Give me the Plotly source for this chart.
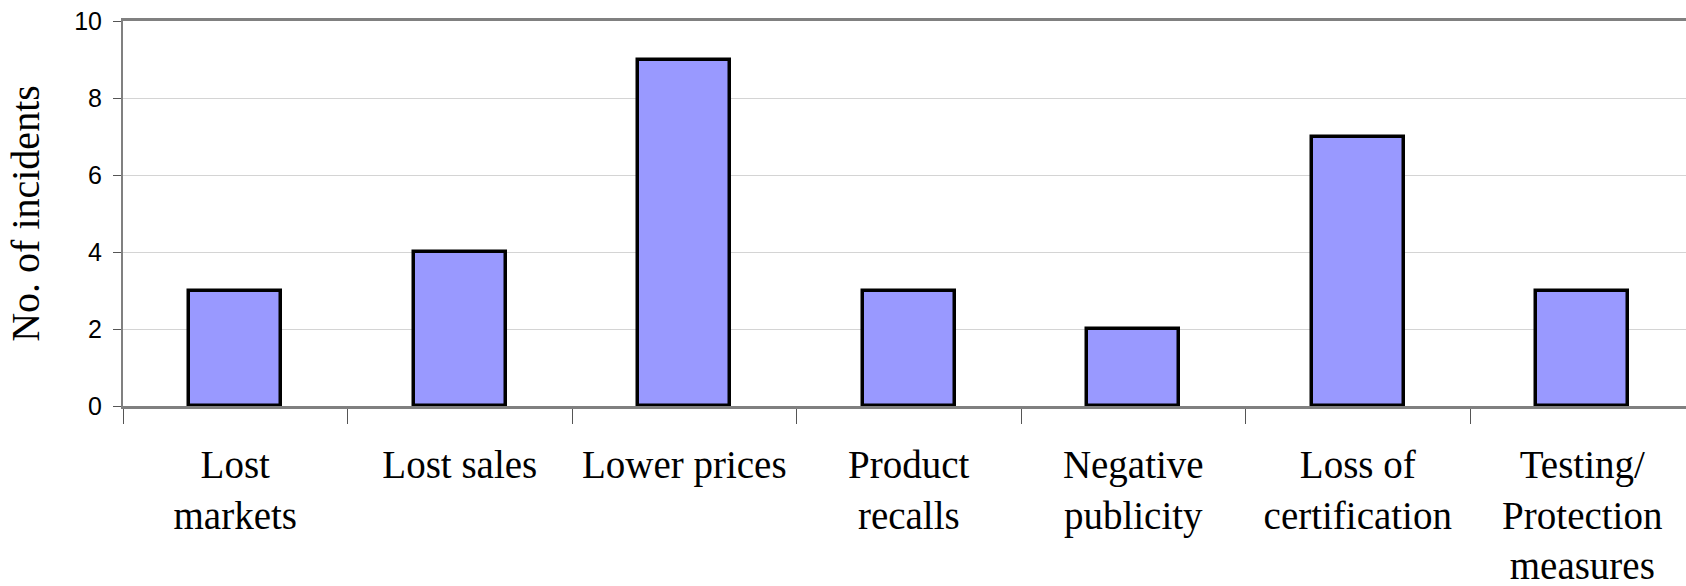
import plotly.graph_objects as go

categories = ["Lost<br>markets", "Lost sales", "Lower prices", "Product<br>recalls",
              "Negative<br>publicity", "Loss of<br>certification", "Testing/<br>Protection<br>measures"]
incidents = [3, 4, 9, 3, 2, 7, 3]
y_ticks = [0, 2, 4, 6, 8, 10]

fig = go.Figure(go.Bar(
    x=categories, y=incidents, width=0.41,
    marker=dict(color="#9999FF", line=dict(color="black", width=3.5)),
))

fig.update_layout(
    width=1686, height=586,
    margin=dict(l=123, r=0, t=21, b=180),
    plot_bgcolor="white", paper_bgcolor="white",
    showlegend=False,
    bargap=0,
)
fig.update_xaxes(
    type="category", range=[-0.5, 6.462], automargin=False,
    tickson="boundaries", ticks="outside", ticklen=15, tickcolor="#555555", tickwidth=1,
    showline=True, linecolor="#808080", linewidth=3, mirror=True,
    showgrid=False,
    tickfont=dict(family="Liberation Serif", size=39, color="black"),
    ticklabelstandoff=22,
)
fig.update_yaxes(
    range=[0, 10], tickvals=y_ticks, automargin=False,
    ticks="outside", ticklen=8, tickcolor="#555555", tickwidth=1,
    showline=True, linecolor="#808080", linewidth=2,
    showgrid=True, gridcolor="#d4d4d4", gridwidth=1,
    zeroline=False,
    tickfont=dict(family="Liberation Sans", size=25, color="black"),
    ticklabelstandoff=6,
    title=dict(text="No. of incidents", font=dict(family="Liberation Serif", size=40, color="black"), standoff=22),
)

fig.write_html(
    "out.html",
    config={"displayModeBar": False},
    post_script="document.body.style.margin='0';document.body.style.overflow='hidden';",
)
